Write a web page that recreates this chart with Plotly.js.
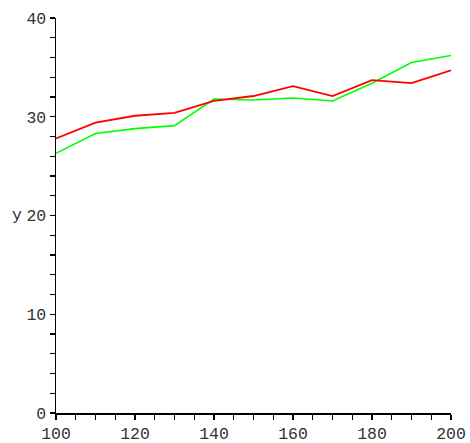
<!DOCTYPE html>
<html>
<head>
<meta charset="utf-8">
<script src="https://cdn.plot.ly/plotly-3.0.1.min.js"></script>
<style>html,body{margin:0;padding:0;background:#fff;}#chart{width:470px;height:443px;}</style>
</head>
<body>
<div id="chart"></div>
<script>
const xValues = [100, 110, 120, 130, 140, 150, 160, 170, 180, 190, 200];
const redSeries = [27.8, 29.4, 30.1, 30.4, 31.6, 32.1, 33.1, 32.1, 33.7, 33.4, 34.7];
const greenSeries = [26.3, 28.3, 28.8, 29.1, 31.8, 31.7, 31.9, 31.6, 33.4, 35.5, 36.2];
const yTitle = "y";

const font = {family: "Liberation Mono, Courier New, monospace", size: 16.5, color: "#333"};

const data = [
  {x: xValues, y: greenSeries, type: "scatter", mode: "lines", line: {color: "#00ff00", width: 1.6}, showlegend: false, hoverinfo: "skip"},
  {x: xValues, y: redSeries, type: "scatter", mode: "lines", line: {color: "#ff0000", width: 1.8}, showlegend: false, hoverinfo: "skip"}
];

const layout = {
  width: 470, height: 443,
  margin: {l: 56, r: 19, t: 18, b: 30},
  paper_bgcolor: "#fff", plot_bgcolor: "#fff",
  font: font,
  xaxis: {
    range: [100, 200], dtick: 20, tick0: 100, showgrid: false, zeroline: false,
    showline: true, linecolor: "#000", linewidth: 1.5,
    ticks: "outside", ticklen: 5, tickwidth: 1.2, tickcolor: "#000",
    minor: {dtick: 5, ticks: "outside", ticklen: 5, tickwidth: 1.2, tickcolor: "#000", showgrid: false},
    tickfont: font, fixedrange: true
  },
  yaxis: {
    range: [0, 40], dtick: 10, tick0: 0, showgrid: false, zeroline: false,
    showline: true, linecolor: "#000", linewidth: 1.5,
    ticks: "outside", ticklen: 5, tickwidth: 1.2, tickcolor: "#000",
    minor: {dtick: 2, ticks: "outside", ticklen: 5, tickwidth: 1.2, tickcolor: "#000", showgrid: false},
    tickfont: font, fixedrange: true
  },
  annotations: [
    {text: yTitle, xref: "paper", yref: "paper", x: -0.099, y: 0.5, xanchor: "center", yanchor: "middle", showarrow: false, font: font}
  ]
};

Plotly.newPlot("chart", data, layout, {staticPlot: true, displayModeBar: false});
</script>
</body>
</html>
